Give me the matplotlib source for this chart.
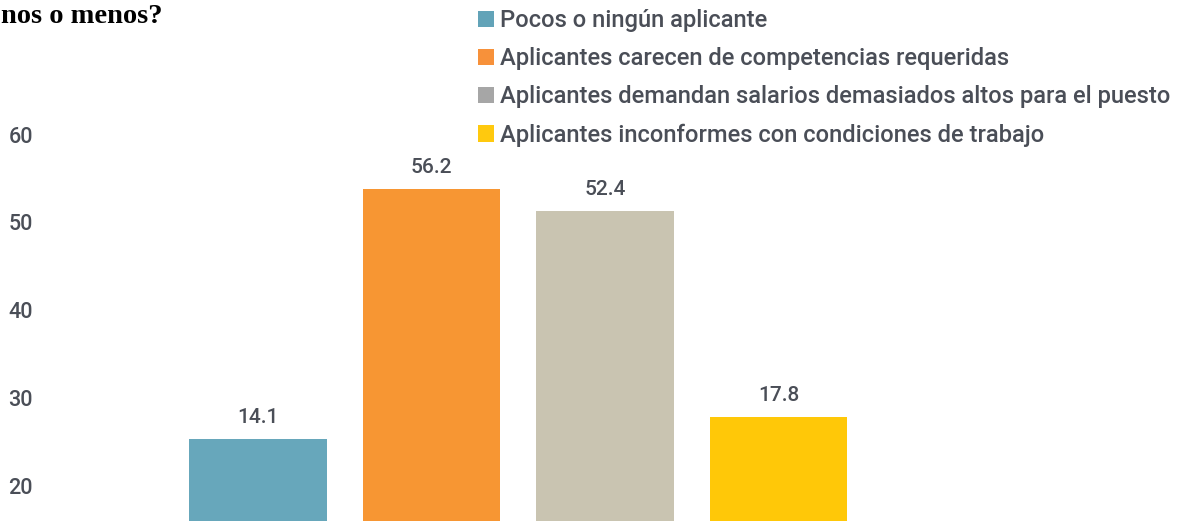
import matplotlib
matplotlib.use("Agg")
import matplotlib.pyplot as plt
from matplotlib.patches import Patch

# ============================ #
# Data                         #
# ============================ #
categories = [
    "Pocos o ningún aplicante",
    "Aplicantes carecen de competencias requeridas",
    "Aplicantes demandan salarios demasiados altos para el puesto",
    "Aplicantes inconformes con condiciones de trabajo",
]
values = [14.1, 56.2, 52.4, 17.8]
value_labels = ["14.1", "56.2", "52.4", "17.8"]
tick_values = [20, 30, 40, 50, 60]
tick_labels = ["20", "30", "40", "50", "60"]

bar_colors = ["#67a7bb", "#f79633", "#c9c4b1", "#ffc808"]
legend_colors = ["#62a3b8", "#f7913a", "#a6a6a6", "#ffc90e"]
text_color = "#4a4e57"

W, H = 1186, 521
fig = plt.figure(figsize=(W / 100, H / 100), dpi=100)

# axes spans from x=45px to right edge, bottom slightly below the image
left_px, bottom_px = 45, 523
ax = fig.add_axes([left_px / W, (H - bottom_px) / H, 1 - left_px / W, bottom_px / H])

# bar scale: ~5.95 px per unit
ax.set_ylim(0, bottom_px / 5.95)
step_px = 173.5
ax.set_xlim(-(258 - left_px) / step_px, -(258 - left_px) / step_px + (W - left_px) / step_px)

xs = list(range(len(values)))
ax.bar(xs, values, width=0.79, color=bar_colors)

for x, v, lab in zip(xs, values, value_labels):
    ax.annotate(lab, (x, v), textcoords="offset points", xytext=(0, 15.5),
                ha="center", va="center", fontsize=15, color=text_color,
                family="Roboto", fontweight="medium")

ax.set_xticks([])
ax.set_yticks([])
for s in ax.spines.values():
    s.set_visible(False)

# tick axis (its own scale as in the source graphic)
ax2 = ax.twinx()
px_per_unit = 8.775
ax2.set_ylim(20 - (bottom_px - 485.5) / px_per_unit, 60 + 134.5 / px_per_unit)
ax2.yaxis.set_ticks_position("left")
ax2.set_yticks(tick_values)
ax2.set_yticklabels(tick_labels, family="Roboto", fontsize=15.5,
                    color=text_color, fontweight="medium")
ax2.tick_params(length=0, pad=8.6)
for s in ax2.spines.values():
    s.set_visible(False)

# legend
handles = [Patch(facecolor=c, edgecolor="none") for c in legend_colors]
fig.legend(handles, categories, loc="upper left",
           bbox_to_anchor=(478 / W, 1 - 9 / H), frameon=False,
           prop={"family": "Roboto", "size": 17.1, "weight": "medium"},
           labelcolor=text_color,
           handlelength=0.68, handleheight=0.68, handletextpad=0.25,
           labelspacing=0.64, borderpad=0, borderaxespad=0)

# title (partly cropped in the source)
fig.text(1 / W, 1 - 23 / H, "nos o menos?", ha="left", va="baseline",
         family=["Liberation Serif", "DejaVu Serif"], fontweight="bold",
         fontsize=20.5, color="black")

fig.savefig("out.png", dpi=100)
